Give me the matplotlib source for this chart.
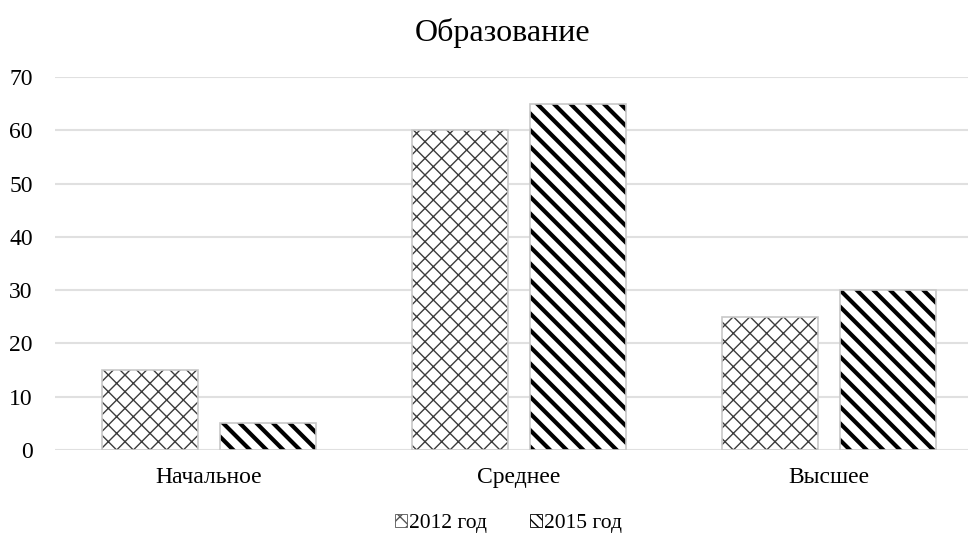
import matplotlib.pyplot as plt
from matplotlib.patches import Patch
import numpy as np

# education level by survey year
categories = ['Начальное', 'Среднее', 'Высшее']
years = ['2012 год', '2015 год']
values_2012 = [15, 60, 25]
values_2015 = [5, 65, 30]

plt.rcParams['font.family'] = ['Liberation Serif', 'DejaVu Serif']

fig = plt.figure(figsize=(9.71, 5.39), dpi=100)
ax = fig.add_axes([55 / 971, 89 / 539, 913 / 971, 373 / 539])

x = np.arange(len(categories))
width = 0.31
offset = 0.19

# cross-hatched 2012 bars, striped 2015 bars
with plt.rc_context({'hatch.linewidth': 1.0}):
    ax.bar(x - offset, values_2012, width, color='white', edgecolor='#3c3c3c',
           hatch='xx', linewidth=0, zorder=3)
    h1 = Patch(facecolor='white', edgecolor='#555555', hatch='xx', linewidth=0.6)
with plt.rc_context({'hatch.linewidth': 3.0}):
    ax.bar(x + offset, values_2015, width, color='white', edgecolor='black',
           hatch='\\\\', linewidth=0, zorder=3)
    h2 = Patch(facecolor='white', edgecolor='black', hatch='\\\\\\', linewidth=0.6)

# soft grey outline around every bar
ax.bar(x - offset, values_2012, width, fill=False, edgecolor='#c8c8c8', linewidth=1.2, zorder=4)
ax.bar(x + offset, values_2015, width, fill=False, edgecolor='#c8c8c8', linewidth=1.2, zorder=4)

ax.set_xlim(-0.497, 2.448)
ax.set_ylim(0, 70)
ax.set_yticks(range(0, 71, 10))
ax.set_xticks(x)
ax.set_xticklabels(categories)
ax.yaxis.grid(True, color='#e0e0e0', linewidth=1.5, zorder=0)
ax.set_axisbelow(True)
for s in ax.spines.values():
    s.set_visible(False)
ax.tick_params(axis='both', length=0, labelsize=17, colors='black')
ax.tick_params(axis='y', pad=16)
ax.tick_params(axis='x', pad=12)

ax.set_title('Образование', fontsize=23, pad=26, x=0.49)

ax.legend([h1, h2], years, loc='lower center', bbox_to_anchor=(0.497, -0.275), ncol=2,
          frameon=False, fontsize=15.5, handlelength=0.55, handleheight=0.55,
          handletextpad=0.1, columnspacing=2.0)

plt.savefig('out.png', dpi=100)
